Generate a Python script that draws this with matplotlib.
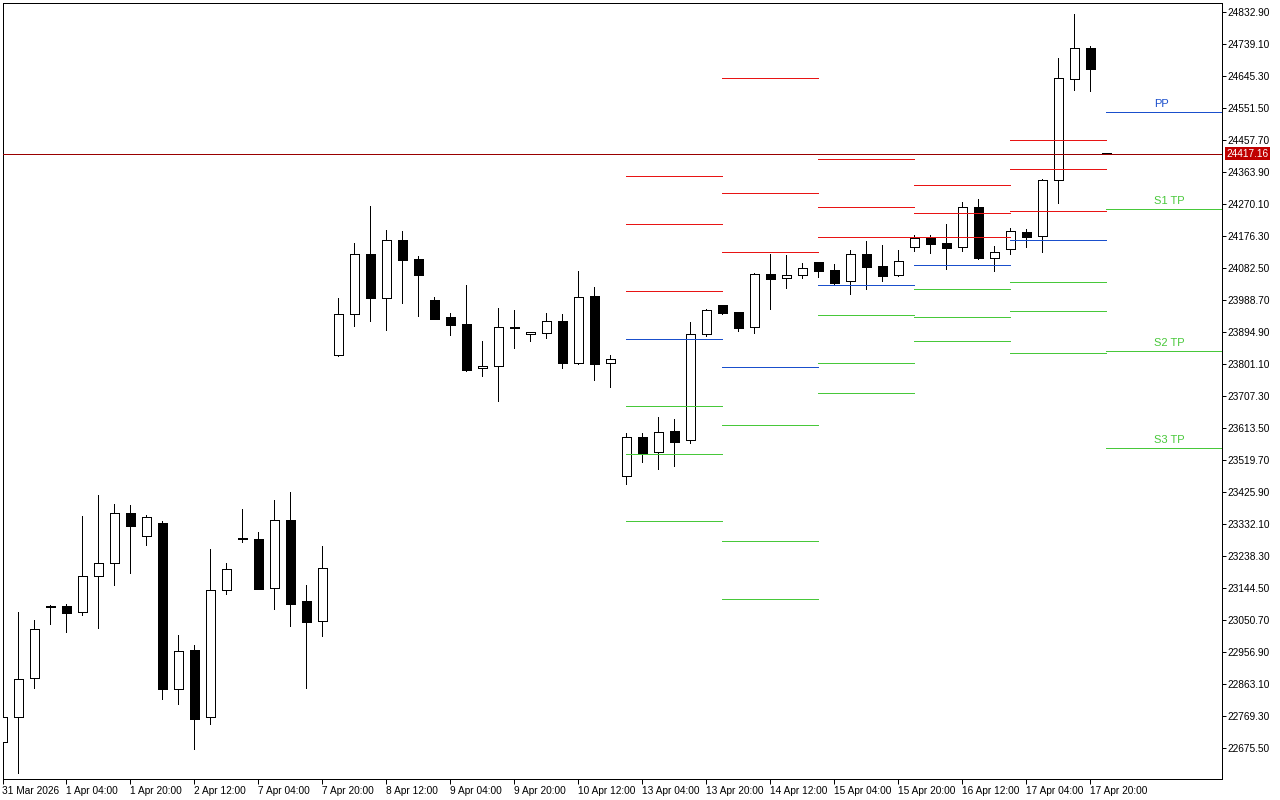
import matplotlib
matplotlib.use("Agg")
import matplotlib.pyplot as plt
from matplotlib.patches import Rectangle
from matplotlib.transforms import blended_transform_factory, offset_copy

plt.rcParams['font.family'] = ['Liberation Sans', 'DejaVu Sans']

# ---- 4-hour candles (bar index 0 = first visible bar) ----
opens = [22692.2, 22764.6, 22878.9, 23091.0, 23090.0, 23072.4, 23177.9, 23216.0, 23362.6, 23295.2,
         23333.3, 22848.4, 22961.0, 22766.4, 23136.9, 23289.0, 23286.4, 23142.7, 23342.1, 23104.6,
         23046.0, 23825.7, 23945.9, 24121.8, 23992.8, 24162.8, 24107.1, 23986.9, 23937.1, 23916.6,
         23787.6, 23793.5, 23907.8, 23887.3, 23890.2, 23925.4, 23804.0, 23998.7, 23802.3, 23471.0,
         23585.4, 23543.1, 23602.9, 23576.6, 23887.3, 23972.3, 23951.8, 23907.8, 24063.2, 24051.4,
         24060.2, 24098.3, 24074.9, 24042.6, 24121.8, 24086.6, 24060.2, 24142.3, 24168.7, 24154.0,
         24142.3, 24259.6, 24111.8, 24136.4, 24186.3, 24174.5, 24338.7, 24634.8, 24725.6, 24416.0]
highs = [22772.0, 23072.4, 23049.8, 23092.5, 23095.8, 23354.7, 23416.2, 23389.8, 23386.9, 23357.6,
         23339.1, 23005.0, 22975.7, 23257.1, 23216.0, 23374.3, 23306.9, 23400.7, 23424.1, 23151.5,
         23265.8, 23992.8, 24154.0, 24263.4, 24192.1, 24189.2, 24115.9, 23995.7, 23948.8, 24030.9,
         23866.8, 23963.5, 23957.6, 23893.1, 23948.8, 23945.9, 24071.9, 24025.0, 23825.7, 23597.1,
         23597.1, 23644.9, 23639.0, 23922.5, 23961.4, 23973.2, 23952.5, 24067.0, 24122.7, 24119.7,
         24096.3, 24099.2, 24092.5, 24134.4, 24160.8, 24148.2, 24134.4, 24178.4, 24178.4, 24210.6,
         24275.1, 24283.9, 24146.1, 24198.9, 24195.9, 24341.6, 24696.3, 24826.2, 24732.4, 24418.5]
lows = [22688.0, 22600.5, 22851.4, 23039.0, 23015.5, 23065.4, 23027.3, 23153.3, 23188.5, 23270.6,
        22819.1, 22804.5, 22672.6, 22745.8, 23126.9, 23279.3, 23140.5, 23082.9, 23033.1, 22851.4,
        23003.8, 23825.0, 23912.5, 23927.2, 23900.8, 23979.9, 23941.8, 23932.0, 23886.1, 23780.6,
        23765.9, 23692.6, 23848.0, 23868.5, 23877.3, 23789.4, 23801.1, 23754.2, 23733.7, 23449.3,
        23513.8, 23493.3, 23502.1, 23568.7, 23883.2, 23946.8, 23896.9, 23892.0, 23961.4, 24023.9,
        24053.2, 24055.2, 24034.7, 24006.3, 24020.9, 24044.4, 24059.0, 24132.3, 24126.5, 24079.6,
        24132.3, 24108.9, 24073.7, 24123.5, 24144.1, 24129.4, 24273.0, 24604.3, 24601.3, 24415.0]
closes = [22764.6, 22876.0, 23022.6, 23089.0, 23071.2, 23177.9, 23216.0, 23362.6, 23326.3, 23350.9,
          22848.4, 22958.1, 22760.5, 23136.9, 23198.4, 23287.0, 23141.6, 23342.1, 23097.6, 23044.9,
          23201.4, 23945.9, 24121.8, 23992.8, 24162.8, 24106.0, 24062.0, 23933.0, 23915.4, 23783.5,
          23793.5, 23907.8, 23904.9, 23893.1, 23925.4, 23804.0, 23995.7, 23801.1, 23814.0, 23585.4,
          23540.2, 23600.0, 23572.5, 23887.3, 23957.6, 23950.6, 23906.6, 24063.2, 24050.3, 24060.2,
          24080.7, 24073.7, 24038.5, 24121.8, 24085.4, 24059.0, 24101.3, 24168.7, 24152.9, 24141.1,
          24259.6, 24111.8, 24127.6, 24189.2, 24173.4, 24338.7, 24637.7, 24725.6, 24665.8, 24417.16]

# ---- time axis labels (every 4th bar) ----
tick_bars = [0, 4, 8, 12, 16, 20, 24, 28, 32, 36, 40, 44, 48, 52, 56, 60, 64, 68]
tick_labels = ["31 Mar 2026", "1 Apr 04:00", "1 Apr 20:00", "2 Apr 12:00", "7 Apr 04:00",
               "7 Apr 20:00", "8 Apr 12:00", "9 Apr 04:00", "9 Apr 20:00", "10 Apr 12:00",
               "13 Apr 04:00", "13 Apr 20:00", "14 Apr 12:00", "15 Apr 04:00", "15 Apr 20:00",
               "16 Apr 12:00", "17 Apr 04:00", "17 Apr 20:00"]

# ---- price axis labels ----
price_ticks = [22675.50, 22769.30, 22863.10, 22956.90, 23050.70, 23144.50, 23238.30, 23332.10,
               23425.90, 23519.70, 23613.50, 23707.30, 23801.10, 23894.90, 23988.70, 24082.50,
               24176.30, 24270.10, 24363.90, 24457.70, 24551.50, 24645.30, 24739.10, 24832.90]

# ---- daily pivot levels (13..17 Apr) ----
pivot_day_start = [39, 45, 51, 57, 63]
r3 = [24350.3, 24637.7, 24400.3, 24324.0, 24455.9]
r2 = [24209.6, 24300.6, 24259.6, 24242.0, 24370.9]
r1 = [24013.2, 24127.6, 24171.6, 24171.6, 24247.8]
pp = [23872.5, 23790.6, 24030.9, 24089.5, 24162.8]
s1 = [23676.1, 23620.5, 23943.0, 24019.2, 24039.7]
s2 = [23535.4, 23280.5, 23802.3, 23937.1, 23954.7]
s3 = [23339.1, 23110.5, 23714.3, 23866.8, 23832.5]

# ---- current day levels ----
current_day_start = 69
current_names = ["PP", "S1 TP", "S2 TP", "S3 TP"]
current_levels = [24538.0, 24253.7, 23838.3, 23553.1]
last_price = 24417.16

RED = '#E81414'
BLUE = '#1A4FCC'
GREEN = '#48C83A'
PX = 0.72  # one pixel in points at 100 dpi

fig = plt.figure(figsize=(12.8, 8), dpi=100)
fig.patch.set_facecolor('white')
ax = fig.add_axes([2.5 / 1280, 21 / 800, 1219.5 / 1280, 776.5 / 800])
ax.set_facecolor('white')

# candles
w = 0.6
for i, (o, h, l, c) in enumerate(zip(opens, highs, lows, closes)):
    ax.vlines(i, l, h, color='black', lw=PX, antialiased=False, zorder=2)
    bottom = min(o, c)
    height = max(abs(c - o), 1.5)
    face = 'white' if c > o else 'black'
    ax.add_patch(Rectangle((i - w / 2, bottom), w, height, facecolor=face,
                           edgecolor='black', lw=PX, antialiased=False, zorder=3))

# pivot lines for previous days
for k, start in enumerate(pivot_day_start):
    end = start + 6
    for lv, col in ((r3[k], RED), (r2[k], RED), (r1[k], RED), (pp[k], BLUE),
                    (s1[k], GREEN), (s2[k], GREEN), (s3[k], GREEN)):
        ax.hlines(lv, start, end, color=col, lw=PX, antialiased=False, zorder=4)

# current day lines with labels
for name, lv in zip(current_names, current_levels):
    col = BLUE if name == "PP" else GREEN
    ax.hlines(lv, current_day_start, current_day_start + 20, color=col, lw=PX,
              antialiased=False, zorder=4)
    ax.annotate(name, xy=(current_day_start + 3.0, lv), xytext=(0, 2.2),
                textcoords='offset points', ha='left', va='bottom', color=col,
                fontsize=8, zorder=6)

# last price line and label
ax.axhline(last_price, color='#9A0000', lw=PX, antialiased=False, zorder=5)
trans = blended_transform_factory(ax.transAxes, ax.transData)
trans = offset_copy(trans, fig=fig, x=4.5, y=0, units='dots')
ax.text(1.0, last_price, f"{last_price:.2f}", transform=trans, ha='left', va='center',
        color='white', fontsize=7.3, clip_on=False, zorder=10,
        bbox=dict(boxstyle='square,pad=0.18', fc='#C00000', ec='none'))

ax.set_xlim(0.0125, 76.23)
ax.set_ylim(22583.8, 24859.9)

ax.yaxis.tick_right()
ax.set_yticks(price_ticks)
ax.set_yticklabels([f"{v:.2f}" for v in price_ticks])
ax.set_xticks(tick_bars)
ax.set_xticklabels(tick_labels)
for lbl in ax.get_xticklabels():
    lbl.set_horizontalalignment('left')
ax.tick_params(axis='y', direction='out', length=2.9, width=PX, pad=1.2, labelsize=7.3,
               colors='black')
ax.tick_params(axis='x', direction='out', length=3.6, width=PX, pad=1.5, labelsize=7.3,
               colors='black')
for sp in ax.spines.values():
    sp.set_color('black')
    sp.set_linewidth(PX)

fig.savefig('out.png', dpi=100)
